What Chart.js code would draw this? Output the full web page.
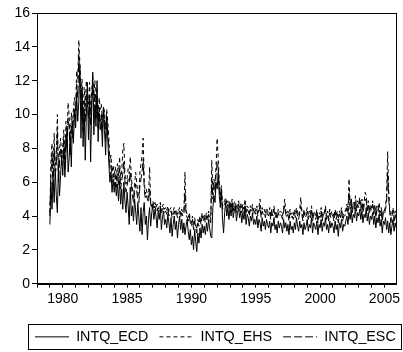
<!DOCTYPE html>
<html>
<head>
<meta charset="utf-8">
<script src="https://cdn.jsdelivr.net/npm/chart.js@4.4.1/dist/chart.umd.min.js"></script>
<style>
  html, body { margin: 0; padding: 0; background: #fff; }
  #wrap { width: 403px; height: 352px; }
</style>
</head>
<body>
<div id="wrap"><canvas id="chart" width="403" height="352"></canvas></div>
<script>
// monthly series, Jan 1979 .. Dec 2005 (one row per year)
const startYear = 1979
const seriesNames = ['INTQ_ECD', 'INTQ_EHS', 'INTQ_ESC']
const yTicks = [0, 2, 4, 6, 8, 10, 12, 14, 16]
const xLabelYears = [1980, 1985, 1990, 1995, 2000, 2005]

const intqEcd = [
  3.5, 6.0, 4.4, 6.2, 4.8, 6.8, 5.2, 4.2, 7.0, 5.2, 6.4, 7.6,
  6.4, 8.0, 6.3, 7.6, 9.2, 6.6, 7.4, 8.8, 6.9, 9.6, 8.3, 10.2,
  9.2, 11.2, 9.6, 10.8, 12.9, 8.6, 11.6, 8.1, 10.3, 7.3, 9.9, 11.9,
  8.5, 10.8, 7.2, 10.3, 12.5, 8.8, 10.6, 9.3, 12.0, 8.4, 10.1, 9.1,
  9.6, 8.1, 10.3, 9.1, 7.6, 9.9, 8.6, 7.1, 6.0, 6.6, 5.4, 6.2,
  5.4, 6.0, 5.2, 5.9, 4.9, 6.1, 4.7, 5.6, 4.4, 6.0, 4.9, 4.2,
  5.4, 4.6, 3.5, 5.7, 4.0, 4.6, 3.7, 5.0, 4.3, 3.5, 4.8, 3.9,
  3.1, 4.5, 2.9, 4.2, 4.8, 3.5, 4.0, 2.6, 3.8, 4.5, 3.4, 4.2,
  4.6, 3.8, 4.4, 4.0, 3.3, 4.2, 3.8, 4.5, 3.2, 3.9, 4.3, 3.5,
  3.8, 3.3, 4.1, 3.6, 3.0, 3.9, 2.8, 3.5, 4.0, 3.2, 3.7, 2.7,
  3.5, 4.0, 3.2, 3.8, 3.0, 3.6, 2.9, 3.4, 3.8, 3.1, 2.6, 3.2,
  2.3, 2.8, 2.0, 3.2, 2.5, 1.9, 3.0, 2.4, 3.3, 2.7, 3.5, 3.0,
  3.4, 2.9, 3.6, 3.1, 3.8, 3.3, 2.8, 2.7, 4.5, 5.2, 4.8, 6.0,
  5.6, 6.6, 5.2, 4.5, 5.6, 3.8, 3.0, 4.2, 4.8, 4.0, 4.5, 3.8,
  4.5, 4.0, 4.7, 3.9, 4.3, 4.6, 3.7, 4.2, 4.5, 3.9, 4.3, 3.6,
  4.2, 3.8, 4.4, 3.5, 4.1, 3.9, 3.4, 4.0, 3.7, 4.2, 3.5, 3.8,
  3.5, 4.0, 3.3, 3.8, 3.6, 3.1, 3.9, 3.4, 3.7, 3.2, 3.8, 3.5,
  3.3, 3.7, 3.0, 3.6, 3.4, 3.9, 3.2, 3.5, 3.0, 3.7, 3.3, 3.6,
  3.4, 3.0, 3.8, 3.3, 3.6, 3.1, 3.5, 2.9, 3.7, 3.2, 3.4, 3.0,
  3.6, 3.2, 3.9, 3.4, 3.1, 3.7, 3.3, 3.5, 2.9, 3.6, 3.2, 3.4,
  3.8, 3.1, 3.5, 3.3, 3.9, 3.0, 3.6, 3.4, 3.2, 3.7, 2.9, 3.5,
  3.3, 3.8, 3.1, 3.6, 3.4, 3.9, 3.2, 3.5, 3.0, 3.7, 3.3, 3.6,
  3.4, 3.0, 3.7, 3.2, 3.5, 2.8, 3.6, 3.3, 3.8, 3.1, 3.5, 3.4,
  3.7, 4.0, 3.5, 4.2, 3.8, 4.4, 3.6, 4.1, 3.9, 4.5, 3.7, 4.2,
  4.0, 4.4, 3.8, 4.3, 3.6, 4.1, 3.9, 4.5, 3.7, 4.2, 3.5, 4.0,
  3.8, 4.2, 3.5, 4.0, 3.3, 3.9, 3.6, 4.1, 3.4, 3.8, 3.0, 3.7,
  3.5, 3.9, 3.2, 3.7, 3.0, 3.6, 2.9, 3.4, 3.8, 3.1, 3.6, 3.3
]

const intqEhs = [
  4.2, 7.2, 8.3, 6.2, 8.9, 7.0, 7.6, 10.0, 6.6, 7.9, 8.6, 7.6,
  8.1, 9.1, 7.3, 9.6, 8.6, 10.7, 9.9, 8.1, 10.1, 9.3, 10.4, 11.0,
  10.2, 12.6, 12.1, 14.4, 13.0, 11.1, 12.1, 9.9, 11.6, 10.5, 12.0, 11.2,
  10.6, 11.9, 10.1, 11.4, 12.3, 11.1, 12.0, 10.6, 11.6, 9.9, 11.0, 10.3,
  10.6, 9.6, 10.5, 10.1, 9.1, 10.3, 9.6, 8.6, 7.2, 7.6, 6.6, 7.0,
  6.3, 6.9, 6.1, 7.1, 6.4, 7.5, 6.1, 6.6, 7.9, 8.3, 6.5, 5.9,
  6.2, 6.8, 6.5, 7.5, 6.3, 5.6, 5.1, 5.9, 6.6, 6.0, 5.3, 5.1,
  6.6, 7.1, 7.6, 8.6, 6.1, 5.3, 5.6, 5.2, 5.1, 6.9, 4.9, 4.6,
  4.9, 4.6, 4.8, 4.5, 4.7, 4.4, 4.6, 4.8, 4.3, 4.6, 4.7, 4.4,
  4.5, 4.3, 4.6, 4.2, 4.4, 4.5, 4.1, 4.3, 4.5, 4.2, 4.4, 4.1,
  4.3, 4.5, 4.1, 4.4, 4.2, 4.3, 6.6, 4.3, 4.1, 3.9, 4.2, 3.8,
  3.6, 4.0, 3.4, 3.9, 3.5, 3.2, 3.8, 3.6, 4.0, 3.7, 4.2, 3.9,
  4.1, 3.8, 4.2, 3.9, 4.3, 4.0, 3.8, 7.3, 5.5, 6.2, 5.8, 7.0,
  8.6, 7.4, 6.0, 5.2, 5.8, 4.6, 4.8, 4.9, 5.1, 4.7, 4.9, 4.6,
  4.9, 4.6, 5.0, 4.5, 4.8, 4.9, 4.4, 4.7, 4.9, 4.5, 4.8, 4.4,
  4.7, 4.4, 5.0, 4.3, 4.6, 4.5, 4.2, 4.6, 4.4, 4.7, 4.3, 4.5,
  4.3, 4.6, 4.2, 4.5, 5.0, 4.1, 4.5, 4.3, 4.4, 4.1, 4.5, 4.3,
  4.2, 4.5, 4.0, 4.4, 4.2, 4.6, 4.1, 4.3, 4.0, 4.4, 4.2, 4.3,
  4.2, 4.0, 4.5, 5.0, 4.3, 4.1, 4.3, 3.9, 4.4, 4.1, 4.2, 4.0,
  4.4, 4.1, 4.5, 4.2, 4.0, 4.4, 5.1, 4.3, 3.9, 4.4, 4.1, 4.2,
  4.5, 4.0, 4.3, 4.1, 4.6, 3.9, 4.3, 4.2, 4.0, 4.4, 3.8, 4.2,
  4.1, 4.5, 3.9, 4.3, 4.2, 4.6, 4.0, 4.3, 3.9, 4.4, 4.1, 4.3,
  4.2, 3.9, 4.4, 4.0, 4.3, 3.8, 4.3, 4.1, 4.5, 3.9, 4.2, 4.2,
  4.4, 4.7, 4.3, 6.2, 4.6, 5.1, 4.4, 4.8, 4.6, 5.2, 4.5, 4.9,
  4.7, 5.1, 4.5, 5.0, 4.4, 4.8, 5.4, 5.2, 4.5, 4.9, 4.3, 4.7,
  4.5, 4.9, 4.3, 4.7, 4.1, 4.6, 4.4, 4.8, 4.2, 4.5, 3.9, 4.4,
  4.3, 4.6, 5.2, 7.8, 5.5, 4.4, 3.8, 4.2, 4.5, 3.9, 4.3, 4.0
]

const intqEsc = [
  4.0, 6.5, 7.6, 5.5, 8.0, 6.4, 7.0, 9.0, 6.0, 7.2, 8.0, 7.0,
  7.4, 8.6, 6.8, 8.8, 8.0, 9.8, 9.2, 7.6, 9.4, 8.6, 9.8, 10.4,
  9.6, 11.8, 11.0, 13.6, 12.2, 10.2, 11.4, 9.0, 10.8, 9.6, 11.2, 10.6,
  9.8, 11.2, 9.4, 10.8, 11.6, 10.2, 11.3, 9.8, 10.9, 9.2, 10.4, 9.6,
  10.0, 9.0, 10.4, 9.6, 8.4, 9.8, 9.0, 8.0, 6.8, 7.0, 6.0, 6.5,
  5.8, 6.4, 5.7, 6.5, 5.8, 6.8, 5.6, 6.1, 6.5, 7.2, 6.0, 5.4,
  5.8, 6.2, 6.0, 6.6, 5.8, 5.2, 4.8, 5.4, 5.9, 5.5, 4.9, 4.8,
  5.8, 6.2, 6.6, 7.4, 5.6, 5.0, 5.2, 5.0, 4.8, 5.6, 4.7, 4.4,
  4.7, 4.4, 4.6, 4.3, 4.5, 4.2, 4.4, 4.6, 4.1, 4.4, 4.5, 4.2,
  4.3, 4.1, 4.4, 4.0, 4.2, 4.3, 3.9, 4.1, 4.3, 4.0, 4.2, 3.9,
  4.1, 4.3, 3.9, 4.2, 4.0, 4.1, 5.4, 4.1, 3.9, 3.7, 4.0, 3.6,
  3.4, 3.8, 3.2, 3.7, 3.3, 3.0, 3.6, 3.4, 3.8, 3.5, 4.0, 3.7,
  3.9, 3.6, 4.0, 3.7, 4.1, 3.8, 3.6, 6.2, 5.0, 5.8, 5.4, 6.4,
  7.2, 6.8, 5.6, 4.9, 5.4, 4.4, 4.6, 4.7, 4.9, 4.5, 4.7, 4.4,
  4.7, 4.4, 4.8, 4.3, 4.6, 4.7, 4.2, 4.5, 4.7, 4.3, 4.6, 4.2,
  4.5, 4.2, 4.7, 4.1, 4.4, 4.3, 4.0, 4.4, 4.2, 4.5, 4.1, 4.3,
  4.1, 4.4, 4.0, 4.3, 4.6, 3.9, 4.3, 4.1, 4.2, 3.9, 4.3, 4.1,
  4.0, 4.3, 3.8, 4.2, 4.0, 4.4, 3.9, 4.1, 3.8, 4.2, 4.0, 4.1,
  4.0, 3.8, 4.3, 4.6, 4.1, 3.9, 4.1, 3.7, 4.2, 3.9, 4.0, 3.8,
  4.2, 3.9, 4.3, 4.0, 3.8, 4.2, 4.6, 4.1, 3.7, 4.2, 3.9, 4.0,
  4.3, 3.8, 4.1, 3.9, 4.4, 3.7, 4.1, 4.0, 3.8, 4.2, 3.6, 4.0,
  3.9, 4.3, 3.7, 4.1, 4.0, 4.4, 3.8, 4.1, 3.7, 4.2, 3.9, 4.1,
  4.0, 3.7, 4.2, 3.8, 4.1, 3.6, 4.1, 3.9, 4.3, 3.7, 4.0, 4.0,
  4.2, 4.5, 4.1, 5.4, 4.4, 4.8, 4.2, 4.6, 4.4, 4.9, 4.3, 4.7,
  4.5, 4.9, 4.3, 4.8, 4.2, 4.6, 5.0, 4.9, 4.3, 4.7, 4.1, 4.5,
  4.3, 4.7, 4.1, 4.5, 3.9, 4.4, 4.2, 4.6, 4.0, 4.3, 3.7, 4.2,
  4.1, 4.4, 4.8, 6.6, 5.0, 4.2, 3.6, 4.0, 4.3, 3.7, 4.1, 3.8
]

// month positions as decimal years
const dates = intqEcd.map((v, i) => startYear + i / 12)

function toPoints(values) {
  return values.map((v, i) => ({ x: dates[i], y: v }))
}

const FONT = 'Liberation Sans, Arial, sans-serif'
const styles = [[], [4, 3], [8, 3]]
const series = [intqEcd, intqEhs, intqEsc]
const legendItemsLeft = 24
const legendFrameLeft = 28
const legendFrameRight = 402
const legendBoxH = 25

// frame around the plot and around the legend
const framePlugin = {
  id: 'frame',
  afterLayout(chart) {
    // legend items start a bit in from the canvas edge; keep them on one row
    const lg = chart.legend
    lg.left = legendItemsLeft
    lg.right = 440
    lg.width = lg.right - lg.left
  },
  afterDraw(chart) {
    const ctx = chart.ctx
    const a = chart.chartArea
    ctx.save()
    ctx.strokeStyle = '#000'
    ctx.lineWidth = 1
    ctx.setLineDash([])
    ctx.strokeRect(Math.round(a.left) + 0.5, Math.round(a.top) + 0.5,
      Math.round(a.right - a.left) - 1, Math.round(a.bottom - a.top))
    const lg = chart.legend
    const cy = (lg.top + lg.bottom) / 2
    ctx.strokeRect(legendFrameLeft + 0.5, Math.round(cy - legendBoxH / 2) + 0.5,
      legendFrameRight - legendFrameLeft - 1, legendBoxH)
    ctx.restore()
  }
}

const ctx = document.getElementById('chart').getContext('2d')
const myChart = new Chart(ctx, {
  type: 'line',
  data: {
    datasets: series.map((s, i) => ({
      label: seriesNames[i],
      data: toPoints(s),
      borderColor: '#000',
      backgroundColor: '#000',
      borderWidth: 1,
      borderDash: styles[i],
      pointRadius: 0,
      tension: 0,
      fill: false
    }))
  },
  options: {
    responsive: false,
    animation: false,
    events: [],
    layout: { padding: { left: 0, right: 0, top: 13, bottom: -2 } },
    plugins: {
      tooltip: { enabled: false },
      legend: {
        position: 'bottom',
        align: 'start',
        labels: {
          usePointStyle: true,
          pointStyle: 'line',
          pointStyleWidth: 34,
          boxHeight: 10,
          padding: 11,
          color: '#000',
          font: { family: FONT, size: 14.3 },
          generateLabels(chart) {
            const items = Chart.defaults.plugins.legend.labels.generateLabels(chart)
            items.forEach(it => {
              it.lineDash = styles[it.datasetIndex]
              it.lineWidth = 1
              it.strokeStyle = '#000'
            })
            return items
          }
        }
      }
    },
    scales: {
      x: {
        type: 'linear',
        min: 1978.0,
        max: 2005.95,
        afterFit(scale) { scale.height = 35 },
        grid: { drawOnChartArea: false, drawTicks: true, tickLength: 4, color: '#000' },
        border: { display: true, color: '#000' },
        ticks: {
          stepSize: 1,
          autoSkip: false,
          includeBounds: false,
          maxRotation: 0,
          padding: 3,
          color: '#000',
          font: { family: FONT, size: 14 },
          callback: v => xLabelYears.includes(v) ? String(v) : ''
        }
      },
      y: {
        min: yTicks[0],
        max: yTicks[yTicks.length - 1],
        afterFit(scale) { scale.width = 37 },
        afterBuildTicks(scale) { scale.ticks = yTicks.map(v => ({ value: v })) },
        grid: { drawOnChartArea: false, drawTicks: true, tickLength: 5, color: '#000' },
        border: { display: true, color: '#000' },
        ticks: {
          padding: 2,
          color: '#000',
          font: { family: FONT, size: 14 }
        }
      }
    }
  },
  plugins: [framePlugin]
})
</script>
</body>
</html>
